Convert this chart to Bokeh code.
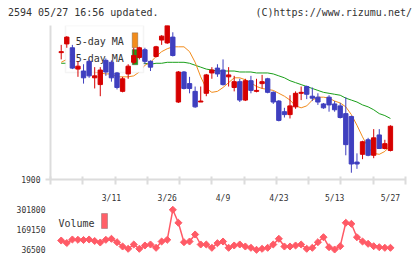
import math

import numpy as np
from bokeh.embed import file_html
from bokeh.layouts import column
from bokeh.models import (BasicTickFormatter, BoxAnnotation, ColumnDataSource,
                          Div, FixedTicker, Label, Range1d)
from bokeh.plotting import figure
from bokeh.resources import INLINE

# ---- daily prices (yen) ----
opens = [2031, 2040, 2036, 2014, 2012, 2022, 2005, 1998, 2023, 2021,
         2010, 1991, 2009, 2021, 2026, 2034, 2022, 2027, 2044, 2041,
         2047, 1980, 2011, 1999, 1991, 1980, 1989, 2010, 2015, 2013,
         2006, 1995, 2001, 1982, 2002, 1991, 1999, 2004, 1990, 1981,
         1970, 1967, 1975, 1989, 1996, 1986, 1985, 1978, 1985, 1978,
         1976, 1968, 1965, 1918, 1926, 1941, 1925, 1946, 1932, 1930]
highs = [2039, 2048, 2039, 2022, 2019, 2024, 2016, 2016, 2025, 2023,
         2011, 2006, 2019, 2036, 2037, 2036, 2023, 2038, 2049, 2059,
         2052, 2012, 2012, 2006, 1996, 1996, 2009, 2016, 2019, 2024,
         2016, 2007, 2004, 2004, 2007, 2004, 2008, 2005, 1991, 1982,
         1974, 1987, 1991, 1996, 1997, 1995, 1989, 1979, 1987, 1981,
         1979, 1985, 1966, 1927, 1940, 1943, 1952, 1952, 1941, 1956]
lows = [2024, 2036, 2014, 2006, 1999, 2005, 1994, 1986, 2007, 2001,
        1993, 1990, 2004, 2019, 2024, 2019, 2012, 2026, 2039, 2040,
        2027, 1979, 1993, 1989, 1974, 1980, 1986, 2004, 2006, 1997,
        1996, 1991, 1980, 1981, 1989, 1990, 1994, 1989, 1978, 1960,
        1964, 1963, 1973, 1982, 1983, 1981, 1977, 1973, 1970, 1970,
        1963, 1925, 1907, 1911, 1921, 1924, 1922, 1932, 1931, 1929]
closes = [2032, 2047, 2015, 2017, 2005, 2007, 2007, 2013, 2011, 2005,
          1995, 2004, 2017, 2028, 2036, 2022, 2016, 2037, 2048, 2059,
          2028, 2011, 1994, 1994, 1975, 1981, 2008, 2013, 2009, 1998,
          2008, 2001, 1982, 2002, 1992, 1992, 2001, 1990, 1980, 1961,
          1967, 1976, 1989, 1990, 1988, 1984, 1980, 1974, 1977, 1972,
          1964, 1936, 1916, 1916, 1939, 1925, 1943, 1932, 1937, 1955]

# moving averages as published with the chart
ma5 = [2021, 2024, 2022, 2023, 2023, 2018, 2011, 2010, 2009, 2009,
       2006, 2006, 2006, 2007, 2011, 2018, 2021, 2027, 2032, 2035,
       2037, 2037, 2037, 2032, 2021, 2006, 1994, 1990, 1991, 1995,
       2000, 2005, 2005, 2003, 2000, 1996, 1994, 1993, 1992, 1989,
       1986, 1982, 1976, 1974, 1976, 1982, 1985, 1985, 1984, 1981,
       1979, 1975, 1967, 1956, 1944, 1933, 1927, 1926, 1929, 1935]
ma25 = [2020, 2020, 2019, 2019, 2019, 2018, 2018, 2018, 2018, 2018,
        2019, 2019, 2019, 2020, 2020, 2020, 2019, 2020, 2020, 2021,
        2021, 2021, 2021, 2020, 2018, 2016, 2014, 2013, 2012, 2012,
        2012, 2012, 2011, 2011, 2011, 2010, 2010, 2010, 2009, 2007,
        2005, 2002, 2000, 1998, 1996, 1994, 1992, 1990, 1989, 1988,
        1987, 1984, 1982, 1980, 1977, 1975, 1972, 1968, 1966, 1963]

volume = [98000, 81600, 104800, 102800, 101500, 104800, 94900, 84900, 102800, 109500,
          86900, 58400, 43100, 71700, 43100, 65000, 71700, 49800, 91500, 102800,
          301800, 215600, 86900, 91500, 138000, 71700, 71700, 49800, 80300, 91500,
          49800, 65000, 71700, 58400, 49800, 36500, 43100, 49800, 71700, 109500,
          58400, 58400, 65000, 71700, 43100, 49800, 86900, 120100, 53700, 38500,
          60400, 215600, 208900, 120100, 91500, 76300, 60400, 53700, 49800, 49800]

date_ticks = [9, 19, 29, 39, 49, 59]
date_labels = ["3/11", "3/26", "4/9", "4/23", "5/13", "5/27"]
price_ticks = [1900]
price_floor, price_ceiling = 1900, 2059

header_left = "2594 05/27 16:56 updated."
header_right = "(C)https://www.rizumu.net/"

# ---- styling ----
RED = "#d60000"
BLUE = "#3f3fbf"
ORANGE = "#f28c1c"
GREEN = "#1a9f1a"
VOL = "#ff5a66"
GRID = "#dcdcdc"
TEXT = "#333333"
MONO = "DejaVu Sans Mono"

n = len(closes)
idx = list(range(n))
x_lo, x_hi = -1.92, 61.7
x_range = Range1d(x_lo, x_hi)

src = ColumnDataSource(dict(
    x=idx, high=highs, low=lows,
    top=[max(o, c) for o, c in zip(opens, closes)],
    bottom=[min(o, c) for o, c in zip(opens, closes)],
    color=[RED if c >= o else BLUE for o, c in zip(opens, closes)],
))


def bare(fig):
    fig.outline_line_color = None
    fig.grid.visible = False
    fig.background_fill_color = "white"
    fig.border_fill_color = "white"


# ---- header strip ----
header = Div(
    text=(f'<div style="display:flex;justify-content:space-between;'
          f'align-items:center;box-sizing:border-box;width:420px;height:25px;'
          f'padding:1px 8px 0 8px;font-family:\'{MONO}\';font-size:10px;'
          f'color:{TEXT};white-space:pre;">'
          f'<span>{header_left}</span><span>{header_right}</span></div>'),
    width=420, height=25, margin=0)

# ---- price panel ----
p = figure(width=420, height=180, x_range=x_range,
           y_range=Range1d(price_floor, price_ceiling),
           output_backend="svg", toolbar_location=None,
           min_border_left=50, min_border_right=15,
           min_border_top=0, min_border_bottom=21)
bare(p)

xa = p.xaxis[0]
grid_marks = list(np.linspace(x_lo + 1e-6, x_hi - 1e-6, 12))
xa.ticker = FixedTicker(ticks=date_ticks, minor_ticks=grid_marks)
xa.major_label_overrides = {t: lab for t, lab in zip(date_ticks, date_labels)}
xa.major_tick_in = 0
xa.major_tick_out = 0
xa.minor_tick_in = 3
xa.minor_tick_out = 5
xa.minor_tick_line_color = GRID
xa.minor_tick_line_width = 2
xa.axis_line_color = GRID
xa.axis_line_width = 2
xa.major_label_standoff = 9
xa.major_label_text_font = MONO
xa.major_label_text_font_size = "8px"
xa.major_label_text_color = TEXT

ya = p.yaxis[0]
ya.ticker = FixedTicker(ticks=price_ticks)
ya.axis_line_color = GRID
ya.axis_line_width = 2
ya.major_tick_in = 0
ya.major_tick_out = 5
ya.major_tick_line_color = GRID
ya.major_tick_line_width = 2
ya.minor_tick_line_color = None
ya.major_label_standoff = 5
ya.major_label_text_font = MONO
ya.major_label_text_font_size = "8px"
ya.major_label_text_color = TEXT

# moving averages sit underneath the legend box
p.line(idx, ma25, line_color=GREEN, line_width=1, level="image")
p.line(idx, ma5, line_color=ORANGE, line_width=1, level="image")

# legend box, drawn below the candles
p.add_layout(BoxAnnotation(left=15, right=93, top=154, bottom=107,
                           left_units="screen", right_units="screen",
                           top_units="screen", bottom_units="screen",
                           fill_color="white", fill_alpha=1,
                           line_color=GRID, line_width=1.5, level="underlay"))
for text, ty, swatch_color, s_top, s_bottom in [
        ("5-day MA", 138, ORANGE, 146.7, 131.7),
        ("25-day MA", 121.5, GREEN, 130, 114.7)]:
    p.add_layout(Label(x=73.3, y=ty, x_units="screen", y_units="screen",
                       text=text, text_align="right", text_baseline="middle",
                       text_font=MONO, text_font_size="10px", text_color=TEXT,
                       level="underlay"))
    p.add_layout(BoxAnnotation(left=81.7, right=87.3, top=s_top, bottom=s_bottom,
                               left_units="screen", right_units="screen",
                               top_units="screen", bottom_units="screen",
                               fill_color=swatch_color, fill_alpha=1,
                               line_color="#444444", line_width=1, level="underlay"))

# candlesticks
p.segment(x0="x", y0="low", x1="x", y1="high", line_color="color",
          line_width=1, source=src)
p.vbar(x="x", width=0.78, top="top", bottom="bottom", fill_color="color",
       line_color="color", line_width=1, source=src)

# ---- volume panel ----
vmin, vmax = min(volume), max(volume)
per_px = (vmax - vmin) / 40.0
v = figure(width=420, height=54, x_range=x_range,
           y_range=Range1d(vmin - 5.7 * per_px, vmax + 4.3 * per_px),
           x_axis_location=None,
           output_backend="svg", toolbar_location=None,
           min_border_left=50, min_border_right=15,
           min_border_top=0, min_border_bottom=4)
bare(v)

vy = v.yaxis[0]
vy.ticker = FixedTicker(ticks=[vmin, (vmin + vmax) / 2, vmax])
vy.formatter = BasicTickFormatter(use_scientific=False)
vy.axis_line_color = None
vy.major_tick_line_color = None
vy.minor_tick_line_color = None
vy.major_tick_in = 0
vy.major_tick_out = 0
vy.major_label_standoff = 5
vy.major_label_text_font = MONO
vy.major_label_text_font_size = "8px"
vy.major_label_text_color = TEXT

v.line(idx, volume, line_color=VOL, line_width=1.5)
v.scatter(idx, volume, marker="square", angle=math.pi / 4, size=5,
          fill_color=VOL, line_color=VOL)

v.add_layout(Label(x=8, y=32.5, x_units="screen", y_units="screen",
                   text="Volume", text_baseline="middle", text_font=MONO,
                   text_font_size="10px", text_color=TEXT))
v.add_layout(BoxAnnotation(left=51, right=57, top=42, bottom=27,
                           left_units="screen", right_units="screen",
                           top_units="screen", bottom_units="screen",
                           fill_color="#ff6068", fill_alpha=1,
                           line_color="#444444", line_width=1))

layout = column(header, p, v, spacing=0)
open("out.html", "w").write(file_html(layout, INLINE))
